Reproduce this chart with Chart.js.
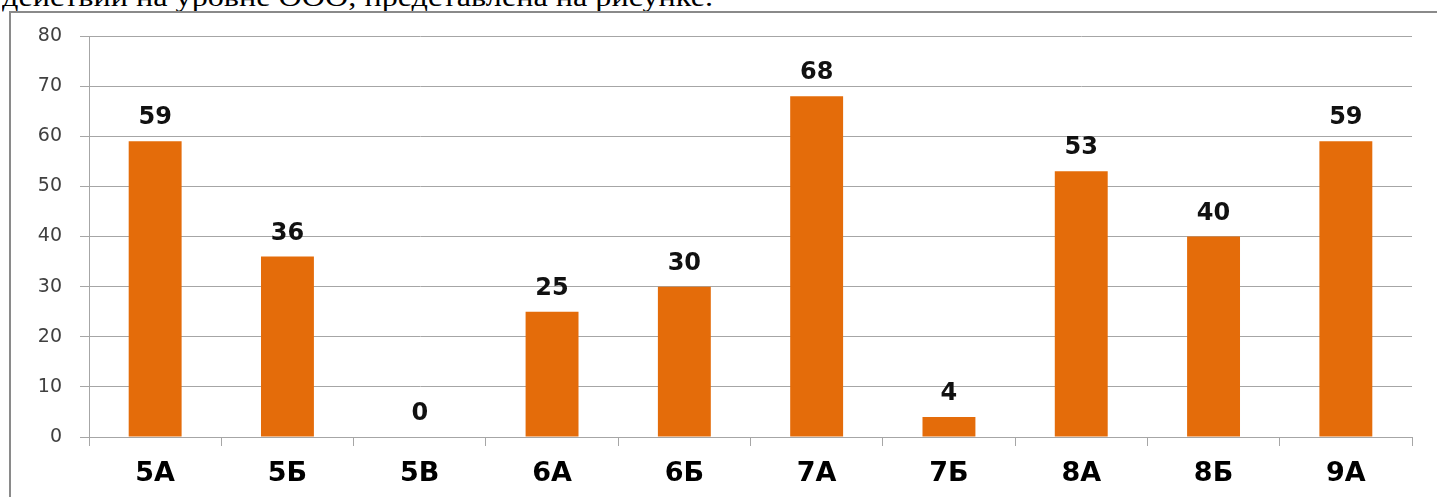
<!DOCTYPE html>
<html>
<head>
<meta charset="utf-8">
<script src="https://cdn.jsdelivr.net/npm/chart.js@4.4.0/dist/chart.umd.min.js"></script>
<style>
  html, body { margin: 0; padding: 0; background: #fff; overflow: hidden; width: 1437px; height: 497px; }
  #cap { position: absolute; left: 2px; top: -16px; font-family: "Liberation Serif", "Times New Roman", serif; font-size: 27px; color: #000; white-space: nowrap; transform-origin: 0 0; line-height: 1; }
  #frame { position: absolute; left: 9px; top: 11px; width: 1500px; height: 600px; border-left: 2px solid #8a8a8a; border-top: 2px solid #8a8a8a; background: #fff; }
  #c { position: absolute; left: 0; top: 0; }
</style>
</head>
<body>
<div id="cap">действий на уровне ООО, представлена на рисунке.</div>
<div id="frame"></div>
<canvas id="c" width="1437" height="497"></canvas>
<script>
const categories = ['5А', '5Б', '5В', '6А', '6Б', '7А', '7Б', '8А', '8Б', '9А'];
const values = [59, 36, 0, 25, 30, 68, 4, 53, 40, 59];
const yTicks = [0, 10, 20, 30, 40, 50, 60, 70, 80];

// fit caption width
(function () {
  const cap = document.getElementById('cap');
  const w = cap.getBoundingClientRect().width;
  cap.style.transform = 'scaleX(' + (711 / w) + ')';
})();

const dataLabels = {
  id: 'dataLabels',
  afterDatasetsDraw(chart) {
    const ctx = chart.ctx;
    const meta = chart.getDatasetMeta(0);
    ctx.save();
    ctx.font = 'bold 24px "DejaVu Sans"';
    ctx.fillStyle = '#111';
    ctx.textAlign = 'center';
    ctx.textBaseline = 'alphabetic';
    meta.data.forEach((bar, i) => {
      ctx.fillText(String(values[i]), bar.x, bar.y - 17);
    });
    ctx.restore();
  }
};

new Chart(document.getElementById('c'), {
  type: 'bar',
  data: {
    labels: categories,
    datasets: [{
      data: values,
      backgroundColor: '#E46C0A',
      borderWidth: 0,
      categoryPercentage: 1,
      barPercentage: 0.4
    }]
  },
  options: {
    responsive: false,
    animation: false,
    devicePixelRatio: 1,
    layout: { padding: { left: 0, right: 25, top: 36, bottom: 0 } },
    plugins: { legend: { display: false }, tooltip: { enabled: false } },
    scales: {
      x: {
        afterFit: s => { s.height = 60; },
        grid: { drawOnChartArea: false, drawTicks: true, tickLength: 9, color: '#a6a6a6', offset: true },
        border: { color: '#a6a6a6', width: 1 },
        ticks: { color: '#000', font: { family: 'DejaVu Sans', size: 27, weight: 'bold' }, padding: 12, maxRotation: 0 }
      },
      y: {
        min: 0, max: 80,
        afterFit: s => { s.width = 89; },
        afterBuildTicks: s => { s.ticks = yTicks.map(v => ({ value: v })); },
        grid: { color: '#a6a6a6', lineWidth: 1, tickLength: 9 },
        border: { color: '#a6a6a6', width: 1 },
        ticks: { color: '#404040', font: { family: 'DejaVu Sans', size: 19 }, padding: 18 }
      }
    }
  },
  plugins: [dataLabels]
});
</script>
</body>
</html>
